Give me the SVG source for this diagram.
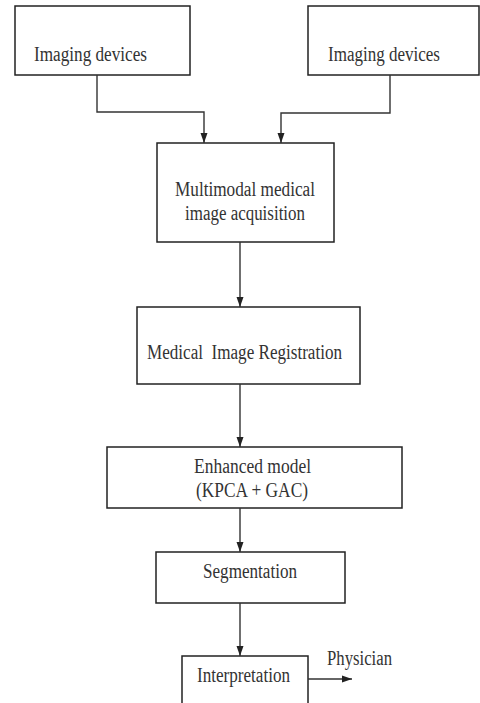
<svg xmlns="http://www.w3.org/2000/svg" width="480" height="703" viewBox="0 0 480 703">
<style>
.box{fill:#fff;stroke:#222;stroke-width:1.5}
.t{font-family:'Liberation Serif','DejaVu Serif',serif;font-size:20px;fill:#333}
.c{fill:none;stroke:#333;stroke-width:1.4}
</style>
<defs>
<marker id="ah" markerUnits="userSpaceOnUse" markerWidth="10" markerHeight="10" viewBox="0 0 10 10" refX="10" refY="5" orient="auto">
<path d="M0,1.5 L10,5 L0,8.5 Z" fill="#222"/>
</marker>
</defs>
<rect width="480" height="703" fill="#fff"/>
<g id="n1"><rect class="box" x="15" y="6" width="175" height="69"/><text class="t" x="34" y="61" textLength="113" lengthAdjust="spacingAndGlyphs">Imaging devices</text></g>
<g id="n2"><rect class="box" x="308" y="6" width="171" height="69"/><text class="t" x="328" y="61" textLength="112" lengthAdjust="spacingAndGlyphs">Imaging devices</text></g>
<g id="n3"><rect class="box" x="157" y="143" width="177" height="99"/><text class="t" x="175" y="196" textLength="140" lengthAdjust="spacingAndGlyphs">Multimodal medical</text><text class="t" x="185" y="220" textLength="120" lengthAdjust="spacingAndGlyphs">image acquisition</text></g>
<g id="n4"><rect class="box" x="137" y="307" width="223" height="77"/><text class="t" x="147" y="359" textLength="195" lengthAdjust="spacingAndGlyphs" xml:space="preserve">Medical  Image Registration</text></g>
<g id="n5"><rect class="box" x="107" y="447" width="295" height="61"/><text class="t" x="194" y="473" textLength="117" lengthAdjust="spacingAndGlyphs">Enhanced model</text><text class="t" x="196" y="497" textLength="112" lengthAdjust="spacingAndGlyphs">(KPCA + GAC)</text></g>
<g id="n6"><rect class="box" x="156" y="552" width="189" height="51"/><text class="t" x="203" y="578" textLength="94" lengthAdjust="spacingAndGlyphs">Segmentation</text></g>
<g id="n7"><rect class="box" x="182" y="656" width="126" height="60"/><text class="t" x="197" y="682" textLength="93" lengthAdjust="spacingAndGlyphs">Interpretation</text></g>
<g id="lbl"><text class="t" x="327" y="665" textLength="65" lengthAdjust="spacingAndGlyphs">Physician</text></g>
<g id="connectors">
<path class="c" d="M97 75 V112 H204 V143" marker-end="url(#ah)"/>
<path class="c" d="M390 75 V113 H281 V143" marker-end="url(#ah)"/>
<path class="c" d="M240 242 V307" marker-end="url(#ah)"/>
<path class="c" d="M240 384 V447" marker-end="url(#ah)"/>
<path class="c" d="M240 508 V552" marker-end="url(#ah)"/>
<path class="c" d="M240 603 V656" marker-end="url(#ah)"/>
<path class="c" d="M308 679 H352" marker-end="url(#ah)"/>
</g>
</svg>
